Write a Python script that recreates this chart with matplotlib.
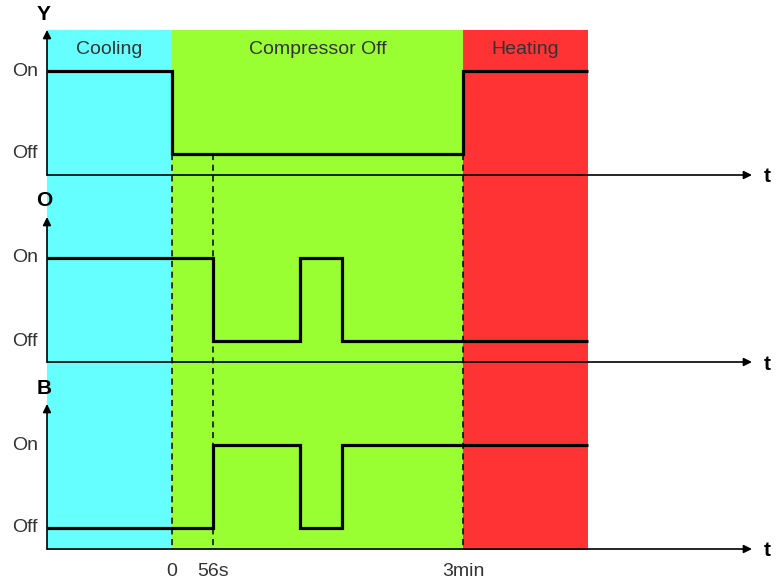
import matplotlib.pyplot as plt

plt.rcParams['font.family'] = ['Liberation Sans', 'DejaVu Sans']

# phases (time in drawing units, 0 = compressor switched off)
phase_names = ['Cooling', 'Compressor Off', 'Heating']
phase_bounds = [-125, 0, 291, 416]
phase_colors = ['#66FFFF', '#99FF33', '#FF3333']

# signals: switching times and states (1 = On, 0 = Off)
signal_names = ['Y', 'O', 'B']
signal_times = [
    [-125, 0, 291, 416],
    [-125, 41, 128, 170, 416],
    [-125, 41, 128, 170, 416],
]
signal_states = [
    [1, 0, 1],
    [1, 0, 1, 0],
    [0, 1, 0, 1],
]

# marked instants on the time axis
mark_times = [0, 41, 291]
mark_labels = ['0', '56s', '3min']

t_start = -125
t_arrow = 580

# panel layout (vertical, in pixels of the figure, y grows downwards)
base0 = 175
panel_step = 187
on_h = 104
off_h = 21
arrow_h = 145

fig = plt.figure(figsize=(7.76, 5.86), dpi=100)
ax = fig.add_axes([0, 0, 1, 1])
ax.set_xlim(-172, 604)
ax.set_ylim(586, 0)
ax.axis('off')

top = base0 - arrow_h
bottom = base0 + 2 * panel_step + 1
txt = '#333333'

# coloured phase backgrounds with titles
for i, name in enumerate(phase_names):
    x0, x1 = phase_bounds[i], phase_bounds[i + 1]
    ax.fill_between([x0, x1], top, bottom, color=phase_colors[i], lw=0, zorder=0)
    ax.text((x0 + x1) / 2, top + 20, name, ha='center', va='center',
            fontsize=14, color=txt)

# dashed markers
for t in mark_times:
    ax.plot([t, t], [base0 - off_h, bottom - 1], color='black', lw=1.1,
            ls=(0, (4, 3)), zorder=2)

for k, name in enumerate(signal_names):
    base = base0 + k * panel_step
    # axes with arrows
    ax.annotate('', xy=(t_start, base - arrow_h), xytext=(t_start, base),
                arrowprops=dict(arrowstyle='-|>', color='black', lw=1.2,
                                mutation_scale=12, shrinkA=0, shrinkB=0), zorder=3)
    ax.annotate('', xy=(t_arrow, base), xytext=(t_start, base),
                arrowprops=dict(arrowstyle='-|>', color='black', lw=1.2,
                                mutation_scale=12, shrinkA=0, shrinkB=0), zorder=3)
    ax.text(t_arrow + 12, base + 2, 't', ha='left', va='center', fontsize=15,
            fontweight='bold', color='black')
    ax.text(t_start - 3, base - arrow_h - 16, name, ha='center', va='center',
            fontsize=15, fontweight='bold', color='black')
    ax.text(t_start - 9, base - on_h, 'On', ha='right', va='center', fontsize=14,
            color=txt)
    ax.text(t_start - 9, base - off_h, 'Off', ha='right', va='center', fontsize=14,
            color=txt)

    # the signal itself
    ts = signal_times[k]
    ys = [base - (on_h if s else off_h) for s in signal_states[k]]
    ax.step(ts, ys + [ys[-1]], where='post', color='black', lw=2.3, zorder=4,
            solid_joinstyle='miter', solid_capstyle='butt')

# time labels
for t, lab in zip(mark_times, mark_labels):
    ax.text(t, bottom + 22, lab, ha='center', va='center', fontsize=14,
            color=txt)

fig.savefig('out.png', dpi=100)
